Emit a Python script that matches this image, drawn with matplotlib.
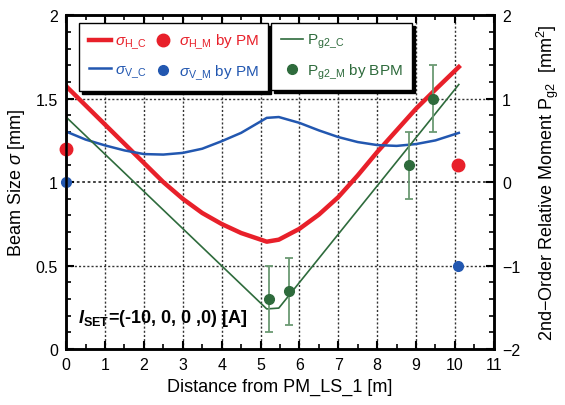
import matplotlib
matplotlib.use("Agg")
import matplotlib.pyplot as plt
from matplotlib.ticker import MultipleLocator, FuncFormatter

plt.rcParams["font.family"] = ["Liberation Sans", "DejaVu Sans"]
plt.rcParams["mathtext.fontset"] = "custom"
plt.rcParams["mathtext.rm"] = "Liberation Sans"
plt.rcParams["mathtext.it"] = "Liberation Sans:italic"
plt.rcParams["mathtext.bf"] = "Liberation Sans:bold"
plt.rcParams["mathtext.bfit"] = "Liberation Sans:italic:bold"

# calculated beam envelope along the line
x_calc = [0, 0.5, 1, 1.5, 2, 2.5, 3, 3.5, 4, 4.5, 5.16, 5.47,
          6, 6.5, 7, 7.5, 8, 8.5, 9, 9.5, 10.1]
sigma_h_calc = [1.575, 1.46, 1.345, 1.23, 1.115, 1.0, 0.90, 0.815, 0.749, 0.695, 0.643, 0.655,
                0.72, 0.805, 0.91, 1.04, 1.18, 1.31, 1.44, 1.555, 1.69]
sigma_v_calc = [1.303, 1.255, 1.22, 1.19, 1.168, 1.165, 1.175, 1.20, 1.245, 1.295, 1.385, 1.39,
                1.355, 1.31, 1.27, 1.24, 1.222, 1.217, 1.228, 1.25, 1.295]

# P_g2 calculated (straight segments)
x_pg2_calc = [0, 5.16, 5.47, 10.1]
pg2_calc = [0.78, -1.52, -1.51, 1.17]

# profile monitor measurements
x_pm = [0, 10.09]
sigma_h_meas = [1.2, 1.1]
sigma_v_meas = [1.0, 0.5]

# BPM measurements of P_g2
x_bpm = [5.22, 5.74, 8.82, 9.43]
pg2_meas = [-1.40, -1.31, 0.2, 1.0]
pg2_err = [0.4, 0.4, 0.4, 0.4]

RED = "#e8202a"
BLUE = "#2257b0"
GREEN = "#2e6b3c"
GREEN_LT = "#6b9a73"

fig = plt.figure(figsize=(5.65, 4.06), dpi=100)
ax = fig.add_axes([0.117, 0.138, 0.757, 0.822])
ax2 = ax.twinx()

ax.set_xlim(0, 11)
ax.set_ylim(0, 2)
ax2.set_ylim(-2, 2)

# grid
for gx in range(1, 11):
    ax.axvline(gx, color="#333333", lw=1.0, ls=(0, (1.5, 1.5)), zorder=0)
for gy in (0.5, 1.0, 1.5):
    ax.axhline(gy, color="#333333", lw=1.3 if gy == 1.0 else 1.0, ls=(0, (1.5, 1.5)), zorder=0)

h_hc, = ax.plot(x_calc, sigma_h_calc, color=RED, lw=3.2, label=r"$\sigma_{\rm H\_C}$")
h_vc, = ax.plot(x_calc, sigma_v_calc, color=BLUE, lw=1.8, label=r"$\sigma_{\rm V\_C}$")
h_hm, = ax.plot(x_pm, sigma_h_meas, "o", color=RED, ms=9, clip_on=False, zorder=5,
                label=r"$\sigma_{\rm H\_M}$ by PM")
h_vm, = ax.plot(x_pm, sigma_v_meas, "o", color=BLUE, ms=7, clip_on=False, zorder=5,
                label=r"$\sigma_{\rm V\_M}$ by PM")

h_pc, = ax2.plot(x_pg2_calc, pg2_calc, color=GREEN, lw=1.2, label=r"P$_{\rm g2\_C}$")
eb = ax2.errorbar(x_bpm, pg2_meas, yerr=pg2_err, fmt="o", color=GREEN, ms=7,
                  ecolor=GREEN_LT, elinewidth=1.3, capsize=3, capthick=1.3)
for cap in eb[1]:
    cap.set_color(GREEN)
h_pm, = ax2.plot([], [], "o", color=GREEN, ms=7, label=r"P$_{\rm g2\_M}$ by BPM")

# ticks
ax.xaxis.set_major_locator(MultipleLocator(1))
ax.xaxis.set_minor_locator(MultipleLocator(0.5))
ax.yaxis.set_major_locator(MultipleLocator(0.5))
ax.yaxis.set_minor_locator(MultipleLocator(0.1))
ax.yaxis.set_major_formatter(FuncFormatter(lambda v, p: f"{v:g}"))
ax2.yaxis.set_major_locator(MultipleLocator(1))
ax2.yaxis.set_minor_locator(MultipleLocator(0.2))
ax.tick_params(axis="x", which="both", direction="in", top=True, labelsize=11.5, pad=6)
ax.tick_params(axis="y", which="both", direction="in", labelsize=11.5, pad=6)
ax2.tick_params(axis="y", which="both", direction="in", labelsize=11.5, pad=6)
for a in (ax, ax2):
    a.tick_params(which="major", length=6, width=1.5)
    a.tick_params(which="minor", length=3.5, width=1.2)
    for s in a.spines.values():
        s.set_linewidth(1.8)
ax2.set_yticks([-2, -1, 0, 1, 2])
ax2.set_yticklabels(["\u22122", "\u22121", "0", "1", "2"])

ax.set_xlabel("Distance from PM_LS_1 [m]", fontsize=13, labelpad=4)
ax.set_ylabel(r"Beam Size $\sigma$ [mm]", fontsize=13, labelpad=6)
ax2.set_ylabel(r"2nd$-$Order Relative Moment P$_{\rm g2}$  [mm$^2$]", fontsize=13,
               labelpad=10)

ax.text(0.3, 0.19, r"$\mathbfit{I}_{\mathbf{SET}}$=(-10, 0, 0 ,0) [A]", fontsize=13,
        fontweight="bold", va="center", ha="left")

leg_kw = dict(fontsize=11, fancybox=False, edgecolor="black", framealpha=1,
              shadow={"color": "black", "alpha": 1.0}, borderaxespad=0,
              handletextpad=0.25, borderpad=0.6, labelspacing=0.75)
leg1 = ax2.legend([h_hc, h_vc, h_hm, h_vm],
                  [h_hc.get_label(), h_vc.get_label(), h_hm.get_label(), h_vm.get_label()],
                  ncol=2, loc="upper left", bbox_to_anchor=(0.031, 0.977),
                  handlelength=1.5, columnspacing=0.3, **leg_kw)
for t, c in zip(leg1.get_texts(), [RED, BLUE, RED, BLUE]):
    t.set_color(c)
leg1.get_frame().set_linewidth(1.0)
ax2.add_artist(leg1)
leg2 = ax2.legend([h_pc, h_pm], [h_pc.get_label(), h_pm.get_label()],
                  loc="upper left", bbox_to_anchor=(0.48, 0.977),
                  handlelength=1.5, **leg_kw)
for t in leg2.get_texts():
    t.set_color(GREEN)
leg2.get_frame().set_linewidth(1.0)

fig.savefig("out.png", dpi=100)
